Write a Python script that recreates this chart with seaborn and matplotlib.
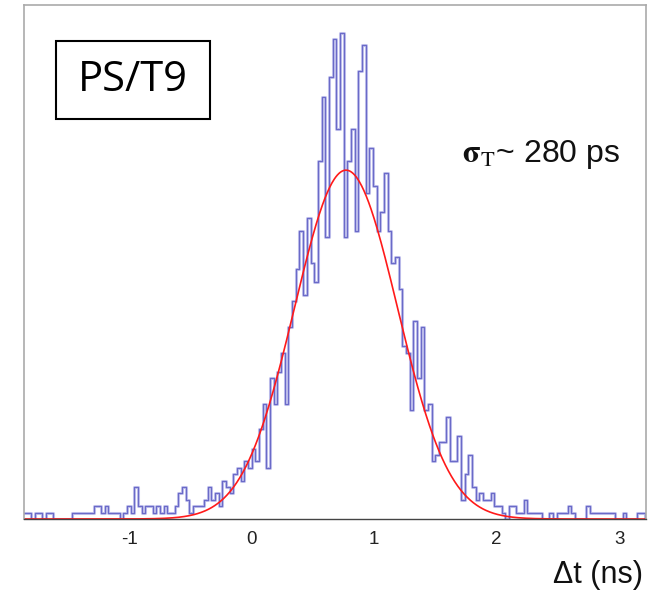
import numpy as np
import pandas as pd
import seaborn as sns
import matplotlib.pyplot as plt
from matplotlib.patches import Rectangle

# time difference histogram, 0.03 ns bins starting at -1.86 ns
bin_lo = -1.86
bin_w = 0.03
counts = [
    1, 1, 0, 1, 1, 0, 1, 1, 0, 0, 0, 0,
    0, 1, 1, 1, 1, 1, 1, 2, 2, 1, 2, 1,
    1, 1, 0, 1, 2, 1, 5, 2, 1, 2, 2, 1,
    2, 1, 2, 1, 1, 2, 4, 5, 3, 1, 2, 2,
    2, 3, 5, 3, 4, 2, 6, 5, 4, 7, 8, 6,
    9, 8, 11, 9, 14, 18, 8, 22, 18, 23, 26, 18,
    30, 34, 39, 45, 35, 47, 40, 37, 56, 66, 44, 69,
    75, 61, 76, 44, 56, 61, 45, 70, 74, 51, 58, 52,
    45, 48, 54, 45, 40, 41, 36, 27, 26, 17, 31, 22,
    30, 17, 18, 9, 10, 12, 12, 16, 9, 9, 13, 3,
    7, 10, 5, 3, 4, 3, 3, 4, 2, 2, 1, 0,
    2, 2, 1, 1, 3, 1, 1, 1, 1, 0, 0, 1,
    0, 1, 1, 1, 2, 1, 0, 0, 0, 2, 1, 1,
    1, 1, 1, 1, 1, 0, 0, 1, 0, 0, 0, 1, 1, 0,
]
# gaussian fit (red curve)
fit_amp = 54.5
fit_mean = 0.77
fit_sigma = 0.42
xticks = [-1, 0, 1, 2, 3]

edges = bin_lo + bin_w * np.arange(len(counts) + 1)
centers = edges[:-1] + bin_w / 2
hist = pd.DataFrame({'dt': centers, 'n': counts})
xs = np.linspace(edges[0], edges[-1], 800)
fit = pd.DataFrame({'dt': xs, 'n': fit_amp * np.exp(-0.5 * ((xs - fit_mean) / fit_sigma) ** 2)})

sns.set_style('white')
plt.rcParams['font.family'] = ['Liberation Sans', 'DejaVu Sans']
plt.rcParams['mathtext.fontset'] = 'stix'

fig = plt.figure(figsize=(6.51, 5.94), dpi=100)
ax = fig.add_axes([24 / 651, 75 / 594, 622 / 651, 514 / 594])

# soft outline + thin line on top, like the blurred original
sns.histplot(data=hist, x='dt', weights='n', bins=list(edges), element='step', fill=False,
             color='#c6c6ee', linewidth=2.2, ax=ax)
sns.histplot(data=hist, x='dt', weights='n', bins=list(edges), element='step', fill=False,
             color='#6a6ac8', linewidth=0.9, ax=ax)
sns.lineplot(data=fit, x='dt', y='n', color='#ff1a1a', linewidth=1.2, ax=ax)

ax.set_xlim(-1.86, 3.22)
ax.set_ylim(0, 80.3)
ax.set_xticks(xticks)
ax.set_xticks(np.arange(-1.5, 3.01, 0.5), minor=True)
ax.set_xticklabels([str(t) for t in xticks])
ax.set_yticks([76.4])
ax.set_yticklabels([])
ax.set_xlabel('')
ax.set_ylabel('')
ax.tick_params(axis='x', which='major', direction='inout', length=6, width=0.8,
               color='#444444', labelsize=13.5, labelcolor='#222222', pad=6)
ax.tick_params(axis='x', which='minor', direction='inout', length=3, width=0.8, color='#444444')
ax.tick_params(axis='y', direction='in', length=5, width=0.8, color='#777777')
for s in ['left', 'top', 'right']:
    ax.spines[s].set_color('#aaaaaa')
    ax.spines[s].set_linewidth(1.2)
ax.spines['bottom'].set_color('#444444')
ax.spines['bottom'].set_linewidth(1.0)

# label box
fig.patches.append(Rectangle((56 / 651, 475 / 594), 154 / 651, 78 / 594, transform=fig.transFigure,
                             facecolor='white', edgecolor='black', linewidth=1.5, zorder=5))
fig.text(133 / 651, 1 - 80 / 594, 'PS/T9', family=['Open Sans', 'DejaVu Sans'], fontsize=30,
         ha='center', va='center', color='black', zorder=6)

fig.text(462 / 651, 1 - 162 / 594, r'$\mathbf{\sigma}_{\mathrm{T}}$' + '~ 280 ps', fontsize=23,
         ha='left', va='baseline', color='#111111')
fig.text(643 / 651, 1 - 583 / 594, 'Δt (ns)', fontsize=22, ha='right', va='baseline', color='#111111')

fig.savefig('out.png', dpi=100)
